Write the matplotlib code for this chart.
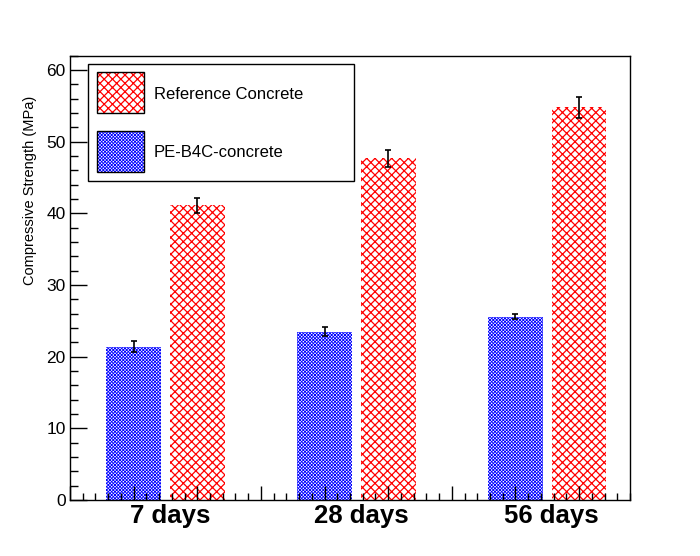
import matplotlib
matplotlib.use("Agg")
import matplotlib.pyplot as plt
from matplotlib.patches import Rectangle
from matplotlib.ticker import MultipleLocator

plt.rcParams['font.family'] = ['Liberation Sans', 'DejaVu Sans']

# data
ages = ["7 days", "28 days", "56 days"]
pe_b4c = [21.4, 23.5, 25.6]
pe_b4c_err = [0.8, 0.6, 0.35]
reference = [41.1, 47.7, 54.8]
reference_err = [1.0, 1.2, 1.5]
series_names = ["Reference Concrete", "PE-B4C-concrete"]

W, H = 700, 556
fig = plt.figure(figsize=(W / 100, H / 100), dpi=100)
ax = fig.add_axes([70 / W, 1 - 500 / H, 560 / W, 444.3 / H])

# bar positions: each group takes 3 slots (dark, red, gap)
pos_dark = [3 * i + 1 for i in range(len(ages))]
pos_red = [3 * i + 2 for i in range(len(ages))]
bw = 0.86

plt.rcParams['hatch.linewidth'] = 0.6
ax.bar(pos_dark, pe_b4c, width=bw, facecolor='white', edgecolor='#0000ff',
       linewidth=0, hatch='xxxxxxxxxx')
plt.rcParams['hatch.linewidth'] = 0.9
ax.bar(pos_red, reference, width=bw, facecolor='white', edgecolor='#ff0000',
       linewidth=0, hatch='xxxx')

ax.errorbar(pos_dark, pe_b4c, yerr=pe_b4c_err, fmt='none', ecolor='black',
            elinewidth=1.2, capsize=2, capthick=1.2)
ax.errorbar(pos_red, reference, yerr=reference_err, fmt='none', ecolor='black',
            elinewidth=1.2, capsize=2, capthick=1.2)

ax.set_xlim(0, 8.8)
ax.set_ylim(0, 62)

ax.xaxis.set_major_locator(MultipleLocator(1))
ax.xaxis.set_minor_locator(MultipleLocator(0.2))
ax.yaxis.set_major_locator(MultipleLocator(10))
ax.yaxis.set_minor_locator(MultipleLocator(2))
ax.tick_params(axis='x', which='major', direction='in', length=10, width=1,
               labelbottom=False)
ax.tick_params(axis='x', which='minor', direction='in', length=5, width=1)
ax.tick_params(axis='y', which='major', direction='in', length=12, width=1,
               labelsize=12.5, pad=3)
ax.tick_params(axis='y', which='minor', direction='in', length=6, width=1)
for s in ax.spines.values():
    s.set_linewidth(1)

for i, lab in enumerate(ages):
    ax.text(3 * i + 1.57, -0.01, lab, transform=ax.get_xaxis_transform(),
            ha='center', va='top', fontsize=18.5, fontweight='bold')

ax.text(-0.0714, 0.698, "Compressive Strength (MPa)", transform=ax.transAxes,
        rotation=90, ha='center', va='center', fontsize=10.5)


# legend drawn by hand in figure pixels
def px(x, y):
    return (x / W, 1 - y / H)


def box(x0, y0, x1, y1, **kw):
    r = Rectangle(px(x0, y1), (x1 - x0) / W, (y1 - y0) / H,
                  transform=fig.transFigure, **kw)
    fig.patches.append(r)
    return r


box(88, 64, 354, 181, facecolor='white', edgecolor='black', linewidth=1)
plt.rcParams['hatch.linewidth'] = 0.9
box(97, 72, 144, 113, facecolor='white', edgecolor='#ff0000', linewidth=0,
    hatch='xxxx')
box(97, 72, 144, 113, fill=False, edgecolor='black', linewidth=1)
plt.rcParams['hatch.linewidth'] = 0.6
box(97, 131, 144, 172, facecolor='white', edgecolor='#0000ff', linewidth=0,
    hatch='xxxxxxxxxx')
box(97, 131, 144, 172, fill=False, edgecolor='black', linewidth=1)
fig.text(*px(154, 94), series_names[0], ha='left', va='center', fontsize=12)
fig.text(*px(154, 152), series_names[1], ha='left', va='center', fontsize=12)

fig.savefig("out.png", dpi=100)
